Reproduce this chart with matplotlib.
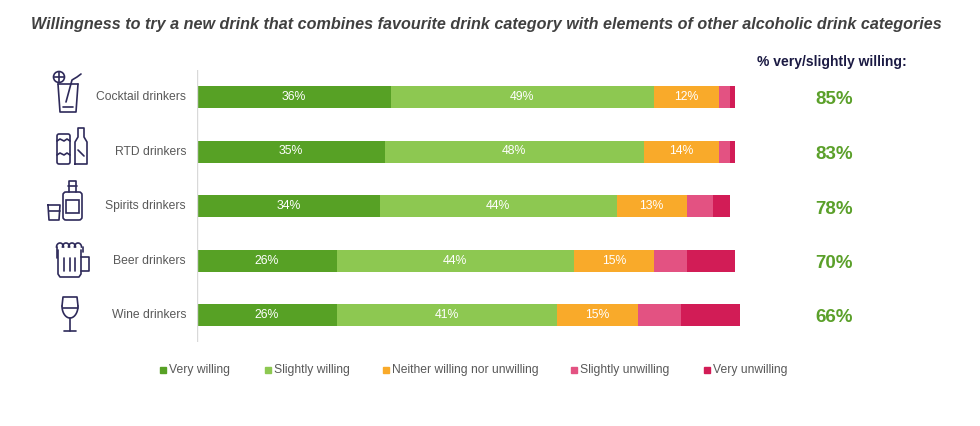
import matplotlib
matplotlib.use("Agg")
import matplotlib.pyplot as plt
from matplotlib.patches import Rectangle, Circle, FancyBboxPatch
import numpy as np

plt.rcParams['font.family'] = ['Liberation Sans', 'DejaVu Sans']

categories = ["Cocktail drinkers", "RTD drinkers", "Spirits drinkers", "Beer drinkers", "Wine drinkers"]
series_names = ["Very willing", "Slightly willing", "Neither willing nor unwilling", "Slightly unwilling", "Very unwilling"]
very_willing = [36, 35, 34, 26, 26]
slightly_willing = [49, 48, 44, 44, 41]
neither = [12, 14, 13, 15, 15]
slightly_unwilling = [2, 2, 5, 6, 8]
very_unwilling = [1, 1, 3, 9, 11]
total_willing = ["85%", "83%", "78%", "70%", "66%"]

colors = ["#57A125", "#8DC851", "#F9AA2A", "#E35282", "#D21C56"]
series = [very_willing, slightly_willing, neither, slightly_unwilling, very_unwilling]
labelled = [True, True, True, False, False]

W, H = 980, 426
fig = plt.figure(figsize=(W / 100, H / 100), dpi=100)

def fx(px):
    return px / W

def fy(py):
    return 1 - py / H

x0 = 197
ppp = 5.38
xmax = 110
ax_top, ax_bot = 70, 342
ax = fig.add_axes([fx(x0), fy(ax_bot), (ppp * xmax) / W, (ax_bot - ax_top) / H])
ax.set_xlim(0, xmax)
centres_px = [97, 151.5, 206, 261, 315]
ax.set_ylim(ax_bot, ax_top)
ypos = np.array(centres_px)
bar_h = 22

left = np.zeros(len(categories))
for vals, col, lab, name in zip(series, colors, labelled, series_names):
    vals = np.array(vals, dtype=float)
    ax.barh(ypos, vals, left=left, height=bar_h, color=col, edgecolor='none', label=name)
    if lab:
        for yi, l, v in zip(ypos, left, vals):
            ax.text(l + v / 2, yi, f"{int(v)}%", ha='center', va='center', color='white', fontsize=8.8)
    left += vals

for s in ax.spines.values():
    s.set_visible(False)
ax.axvline(0, color='#D9D9D9', lw=1)
ax.set_xticks([])
ax.set_yticks([])

for c, yp in zip(categories, centres_px):
    fig.text(fx(186), fy(yp), c, ha='right', va='center', fontsize=8.7, color='#595959')

fig.text(fx(832), fy(62), "% very/slightly willing:", ha='center', va='center', fontsize=10,
         fontweight='bold', color='#1B1A43')
for t, yp in zip(total_willing, centres_px):
    fig.text(fx(834), fy(yp + 3), t, ha='center', va='center', fontsize=13.5,
             fontweight='bold', color='#5BA02A')

fig.text(fx(486), fy(25), "Willingness to try a new drink that combines favourite drink category with elements of other alcoholic drink categories",
         ha='center', va='center', fontsize=11.6, fontweight='bold', fontstyle='italic', color='#404040')

leg_items = [(160, series_names[0]), (265, series_names[1]), (383, series_names[2]),
             (571, series_names[3]), (704, series_names[4])]
for (lx, name), col in zip(leg_items, colors):
    fig.patches.append(Rectangle((fx(lx), fy(372.5)), 6 / W, 6 / H, transform=fig.transFigure,
                                 color=col, figure=fig))
    fig.text(fx(lx + 9), fy(369.5), name, ha='left', va='center', fontsize=8.7, color='#595959')

ia = fig.add_axes([0, 0, 1, 1], zorder=-1)
ia.set_xlim(0, W)
ia.set_ylim(H, 0)
ia.axis('off')
ic = '#2E2A5A'
lw = 1.2

def line(xs, ys):
    ia.plot(xs, ys, color=ic, lw=lw, solid_capstyle='round', solid_joinstyle='round')

# cocktail
line([58, 60, 76, 78], [84, 112, 112, 84])
line([58, 78], [84, 84])
line([63, 73], [107, 107])
line([66, 72, 77, 81], [102, 80, 77, 74])
ia.add_patch(Circle((59, 77), 5.5, fill=False, ec=ic, lw=lw))
line([59, 59], [72, 82])
line([54, 64], [77, 77])
# RTD
ia.add_patch(FancyBboxPatch((57, 134), 13, 30, boxstyle="round,pad=0,rounding_size=2", fill=False, ec=ic, lw=lw))
line([57, 60, 64, 67, 70], [141, 139, 141, 139, 141])
line([57, 60, 64, 67, 70], [155, 153, 155, 153, 155])
line([75, 75, 78, 78, 84, 84, 87, 87, 75], [164, 142, 137, 128, 128, 137, 142, 164, 164])
line([78, 84], [150, 156])
# spirits
line([48, 49, 59, 60, 48], [205, 220, 220, 205, 205])
line([48.5, 59.5], [211, 211])
ia.add_patch(FancyBboxPatch((63, 192), 19, 28, boxstyle="round,pad=0,rounding_size=3", fill=False, ec=ic, lw=lw))
line([69, 69, 76, 76], [192, 181, 181, 192])
line([68, 77], [186, 186])
ia.add_patch(Rectangle((66, 200), 13, 13, fill=False, ec=ic, lw=lw))
# beer
line([58, 58, 60, 79, 81, 81], [250, 274, 277, 277, 274, 250])
t = np.linspace(0, np.pi, 20)
for cx in [60, 66, 72, 78]:
    ia.plot(cx + 3.5 * np.cos(t), 247 - 4 * np.sin(t), color=ic, lw=lw)
line([56.5, 56.5], [247, 258])
line([82.5, 82.5], [247, 252])
line([81, 89, 89, 81], [257, 257, 271, 271])
for vx in [64, 69.5, 75]:
    line([vx, vx], [258, 271])
# wine
tt = np.linspace(0, np.pi, 30)
bx = 70 + 8 * np.cos(tt)
by = 306 + 12 * np.sin(tt)
line(list(bx), list(by))
line([62, 63, 77, 78], [306, 297, 297, 306])
line([62.5, 77.5], [308, 308])
line([70, 70], [318, 331])
line([64, 76], [331, 331])

fig.savefig("out.png", dpi=100)
